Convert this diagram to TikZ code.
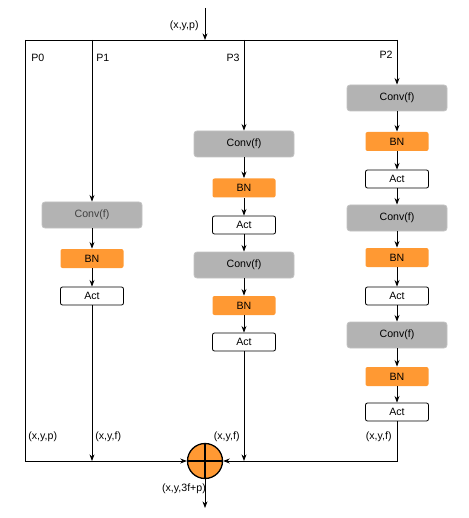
\documentclass[tikz,border=0pt]{standalone}
\usepackage{fontspec}
\setmainfont{Liberation Sans}
\usepackage{tikz}
\usetikzlibrary{arrows.meta}
\definecolor{convgray}{HTML}{B3B3B3}
\definecolor{bnorange}{HTML}{FF9933}

\begin{document}
\begin{tikzpicture}[x=1pt, y=-1pt, >=Stealth, line width=0.8pt,
        every node/.style={font=\fontsize{10.6}{12}\selectfont},
        conv/.style={fill=convgray, draw=convgray!80, rounded corners=3pt, minimum width=100pt, minimum height=26pt, inner sep=0pt},
        bn/.style={fill=bnorange, rounded corners=2pt, minimum width=63pt, minimum height=19pt, inner sep=0pt},
        act/.style={fill=white, draw=black, rounded corners=2pt, minimum width=63pt, minimum height=18pt, inner sep=0pt},
        lbl/.style={inner sep=0pt}]
        \useasboundingbox (0,0) rectangle (468,518);
        
        % Input and splitting line
        \coordinate (in) at (205,8);
        \coordinate (top) at (205,40);
        \coordinate (p0top) at (25,40);
        \coordinate (p1top) at (92,40);
        \coordinate (p3top) at (244,40);
        \coordinate (p2top) at (397,40);
        \draw[->] (in) -- (top) node[lbl, pos=0.55, left=6pt] {(x,y,p)};
        \draw (p0top) -- (p2top);
        
        % Branch labels
        \node[lbl, anchor=west] (lp0) at (31,58) {P0};
        \node[lbl, anchor=west] (lp1) at (96,58) {P1};
        \node[lbl, anchor=east] (lp3) at (240,58) {P3};
        \node[lbl, anchor=east] (lp2) at (393,55) {P2};
        
        % Branch P1
        \node[conv, text=black!75] (c11) at (92,215) {Conv(f)};
        \node[bn] (b11) at (92,258.5) {BN};
        \node[act] (a11) at (92,296) {Act};
        
        % Branch P3
        \node[conv] (c31) at (244,144) {Conv(f)};
        \node[bn] (b31) at (244,188) {BN};
        \node[act] (a31) at (244,225) {Act};
        \node[conv] (c32) at (244,265) {Conv(f)};
        \node[bn] (b32) at (244,305.5) {BN};
        \node[act] (a32) at (244,342) {Act};
        
        % Branch P2
        \node[conv] (c21) at (397,98) {Conv(f)};
        \node[bn] (b21) at (397,141.5) {BN};
        \node[act] (a21) at (397,179) {Act};
        \node[conv] (c22) at (397,218) {Conv(f)};
        \node[bn] (b22) at (397,257.5) {BN};
        \node[act] (a22) at (397,296) {Act};
        \node[conv] (c23) at (397,335) {Conv(f)};
        \node[bn] (b23) at (397,376.5) {BN};
        \node[act] (a23) at (397,412) {Act};
        
        % Concatenation node
        \node[circle, draw=black, line width=1.3pt, fill=bnorange, minimum size=35pt, inner sep=0pt] (sum) at (205,461) {};
        \draw[line width=1.3pt] (sum.north) -- (sum.south) (sum.west) -- (sum.east);
        \coordinate (p0bot) at (25,461);
        \coordinate (p1bot) at (92,461);
        \coordinate (p3bot) at (244,461);
        \coordinate (p2bot) at (397,461);
        \coordinate (out) at (205,508);
        
        % Arrows inside the branches
        \draw[->] (p1top) -- (c11);
        \draw[->] (p3top) -- (c31);
        \draw[->] (p2top) -- (c21);
        \foreach \a/\b in {c11/b11, b11/a11, c31/b31, b31/a31, a31/c32, c32/b32, b32/a32,
                c21/b21, b21/a21, a21/c22, c22/b22, b22/a22, a22/c23, c23/b23, b23/a23}
            \draw[->] (\a) -- (\b);
        
        % Merging lines
        \draw[->] (p0top) -- (p0bot) -- (sum.west);
        \draw[->] (a11) -- (p1bot);
        \draw[->] (a32) -- (p3bot);
        \draw[->] (a23) -- (p2bot) -- (sum.east);
        \draw[->] (sum.south) -- (out);
        
        % Shape labels
        \node[lbl, anchor=west] (s0) at (28,437) {(x,y,p)};
        \node[lbl, anchor=west] (s1) at (95,437) {(x,y,f)};
        \node[lbl, anchor=east] (s3) at (240,437) {(x,y,f)};
        \node[lbl, anchor=east] (s2) at (392,437) {(x,y,f)};
        \node[lbl] (sout) at (184,489) {(x,y,3f+p)};
    \end{tikzpicture}
\end{document}
